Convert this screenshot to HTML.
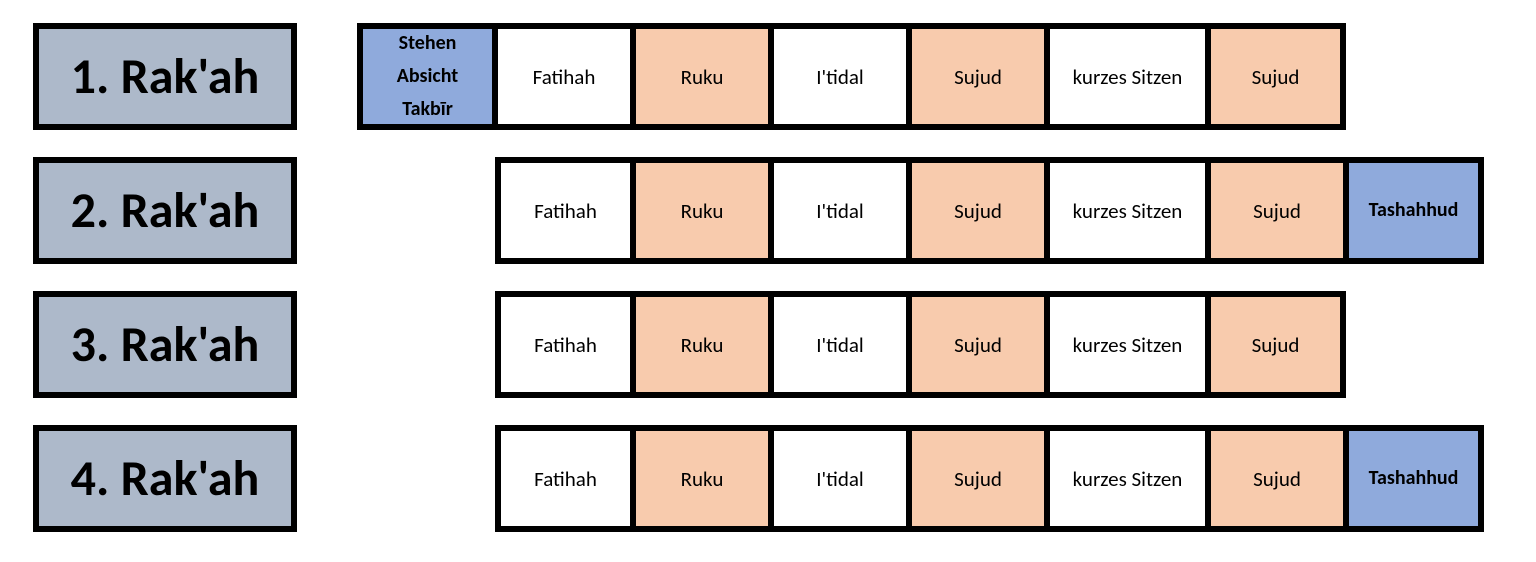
<!DOCTYPE html>
<html><head><meta charset="utf-8">
<style>
html,body{margin:0;padding:0;background:#fff;}
#stage{position:relative;width:1536px;height:562px;overflow:hidden;font-family:"Carlito","Liberation Sans",sans-serif;}
.lbl{position:absolute;box-sizing:border-box;border:6px solid #000;background:#adb9ca;display:flex;align-items:center;justify-content:center;font-weight:bold;font-size:50px;color:#000;}
.cell{position:absolute;box-sizing:border-box;border:6px solid #000;display:flex;align-items:center;justify-content:center;text-align:center;font-size:21px;color:#000;}
.w{background:#fff}.o{background:#f8cbad}.b{background:#8faadc;font-weight:bold;font-size:20px;line-height:33px;}
</style></head><body>
<div id="stage"></div>
<script>
const rowLabels = ["1. Rak'ah","2. Rak'ah","3. Rak'ah","4. Rak'ah"];
const row1Steps = ["Stehen<br>Absicht<br>Takbīr","Fatihah","Ruku","I'tidal","Sujud","kurzes Sitzen","Sujud"];
const row2Steps = ["Fatihah","Ruku","I'tidal","Sujud","kurzes Sitzen","Sujud","Tashahhud"];
const row3Steps = ["Fatihah","Ruku","I'tidal","Sujud","kurzes Sitzen","Sujud"];
const row4Steps = ["Fatihah","Ruku","I'tidal","Sujud","kurzes Sitzen","Sujud","Tashahhud"];
const rowStartSlot = [0,1,1,1];

const rows=[row1Steps,row2Steps,row3Steps,row4Steps];
const stage=document.getElementById('stage');
const edges=[357,495,633,771,909,1047,1208,1346,1484];
const rowTop=[23,157,291,425], rowH=107;
function cls(s){ if(s==="Ruku"||s==="Sujud") return "o"; if(s==="Tashahhud"||s.indexOf("Stehen")===0) return "b"; return "w"; }
function slug(s){return s.toLowerCase().replace(/<br>/g,'-').replace(/[^a-z0-9]+/g,'-').replace(/^-|-$/g,'');}
rows.forEach((steps,i)=>{
  const l=document.createElement('div');
  l.className='lbl';
  l.style.left='33px';l.style.top=rowTop[i]+'px';l.style.width='264px';l.style.height=rowH+'px';
  l.textContent=rowLabels[i];
  
  
  stage.appendChild(l);
  steps.forEach((s,j)=>{
    const k=rowStartSlot[i]+j;
    const c=document.createElement('div');
    c.className='cell '+cls(s);
    const x0=edges[k], x1=edges[k+1];
    const left=(j===0)?x0:x0-3;
    const right=(j===steps.length-1)?x1:x1+3;
    c.style.left=left+'px';
    c.style.width=(right-left)+'px';
    c.style.top=rowTop[i]+'px';c.style.height=rowH+'px';
    c.innerHTML=s;
    
    
    stage.appendChild(c);
  });
});
</script>
</body></html>
